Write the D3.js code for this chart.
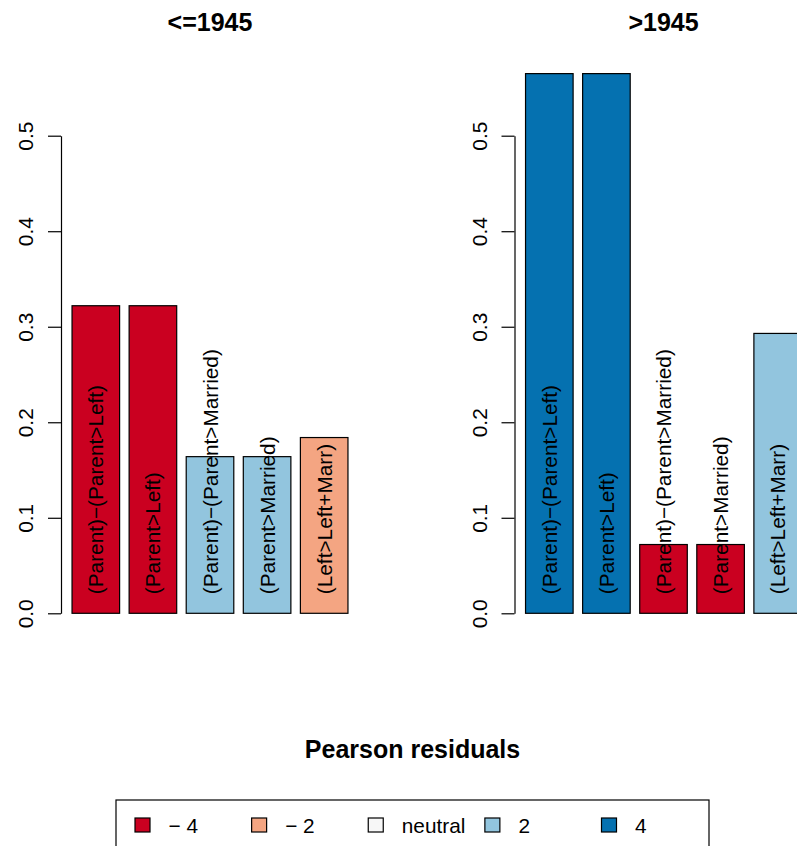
<!DOCTYPE html>
<html>
<head>
<meta charset="utf-8">
<script src="https://cdn.jsdelivr.net/npm/d3@7"></script>
<style>
  html, body { margin: 0; padding: 0; background: #fff; }
  svg { display: block; font-family: "Liberation Sans", Arial, Helvetica, sans-serif; }
</style>
</head>
<body>
<svg id="chart" width="797" height="846"></svg>
<script>
// Sequence categories shown in each cohort panel
const categories = [
  "(Parent)\u2212(Parent>Left)",
  "(Parent>Left)",
  "(Parent)\u2212(Parent>Married)",
  "(Parent>Married)",
  "(Left>Left+Marr)"
];
const cohorts = ["<=1945", ">1945"];

// Bar heights per cohort
const valuesEarly = [0.322, 0.322, 0.164, 0.164, 0.184];
const valuesLate  = [0.565, 0.565, 0.072, 0.072, 0.293];

// Pearson residual class of each bar (-4, -2, 0 = neutral, 2, 4)
const residEarly = [-4, -4, 2, 2, -2];
const residLate  = [4, 4, -4, -4, 2];

// Legend
const legendKeys   = [-4, -2, 0, 2, 4];
const legendLabels = ["\u2212 4", "\u2212 2", "neutral", "2", "4"];
const legendColors = ["#CA0020", "#F4A582", "#F7F7F7", "#92C5DE", "#0571B0"];
const legendTitle  = "Pearson residuals";

const yTicks = [0.0, 0.1, 0.2, 0.3, 0.4, 0.5];

const color = d3.scaleOrdinal().domain(legendKeys).range(legendColors);

const svg = d3.select("#chart");
svg.append("rect").attr("width", 797).attr("height", 846).attr("fill", "#fff");

const panelOffset = 453.5;
const fontSize = 20.8;

// Shared y scale: 0 at the baseline, 0.5 at the top tick
const y = d3.scaleLinear().domain([0, 0.5]).range([613.3, 135.7]);
// x scale in bar units (bar width 1, space 0.2), extended 4% like base graphics
const x = d3.scaleLinear().domain([-0.032, 6.232]).range([61, 359]);

const panels = [
  { title: cohorts[0], values: valuesEarly, resid: residEarly },
  { title: cohorts[1], values: valuesLate,  resid: residLate }
];

panels.forEach((p, pi) => {
  const g = svg.append("g").attr("transform", `translate(${pi * panelOffset},0)`);

  const rows = categories.map((c, i) => ({ cat: c, value: p.values[i], resid: p.resid[i], i }));

  // bars
  g.selectAll("rect.bar").data(rows).enter().append("rect")
    .attr("class", "bar")
    .attr("x", d => x(0.2 + d.i * 1.2))
    .attr("width", d => x(1.2 + d.i * 1.2) - x(0.2 + d.i * 1.2))
    .attr("y", d => y(d.value))
    .attr("height", d => y(0) - y(d.value))
    .attr("fill", d => color(d.resid))
    .attr("stroke", "#000")
    .attr("stroke-width", 1.2);

  // category labels written upwards inside the bars
  g.selectAll("text.lab").data(rows).enter().append("text")
    .attr("class", "lab")
    .attr("transform", d => `translate(${x(0.7 + d.i * 1.2) + 7.5},${y(0.02)}) rotate(-90)`)
    .attr("text-anchor", "start")
    .attr("font-size", fontSize)
    .attr("fill", "#000")
    .text(d => d.cat);

  // y axis
  const ax = g.append("g")
    .attr("transform", `translate(${x(-0.032)},0)`)
    .call(d3.axisLeft(y).tickValues(yTicks).tickSize(13).tickSizeOuter(0)
      .tickFormat(d3.format(".1f")));
  ax.select(".domain").attr("stroke", "#000").attr("stroke-width", 1.2);
  ax.selectAll(".tick line").attr("stroke", "#000").attr("stroke-width", 1.2);
  ax.selectAll(".tick text")
    .attr("x", null).attr("dy", null)
    .attr("transform", "translate(-28,0) rotate(-90)")
    .attr("text-anchor", "middle")
    .attr("font-size", fontSize)
    .attr("font-family", "Liberation Sans, Arial, sans-serif")
    .attr("fill", "#000");

  // panel title
  g.append("text")
    .attr("x", (x.range()[0] + x.range()[1]) / 2)
    .attr("y", 31)
    .attr("text-anchor", "middle")
    .attr("font-size", 25)
    .attr("font-weight", "bold")
    .text(p.title);
});

// Legend title
svg.append("text")
  .attr("x", 412.5).attr("y", 758)
  .attr("text-anchor", "middle")
  .attr("font-size", 25)
  .attr("font-weight", "bold")
  .text(legendTitle);

// Legend box and entries
const lg = svg.append("g");
lg.append("rect")
  .attr("x", 116).attr("y", 800)
  .attr("width", 593).attr("height", 70)
  .attr("fill", "none").attr("stroke", "#000").attr("stroke-width", 1.2);

const legX = d3.scalePoint().domain(legendKeys).range([142.5, 609]);

const items = lg.selectAll("g.item").data(legendKeys).enter().append("g")
  .attr("class", "item")
  .attr("transform", d => `translate(${legX(d)},825)`);
items.append("rect")
  .attr("x", -7.5).attr("y", -7)
  .attr("width", 15).attr("height", 14)
  .attr("fill", d => color(d))
  .attr("stroke", "#000").attr("stroke-width", 1.2);
items.append("text")
  .attr("x", 26).attr("y", 7.5)
  .attr("font-size", fontSize)
  .text((d, i) => legendLabels[i]);
</script>
</body>
</html>
